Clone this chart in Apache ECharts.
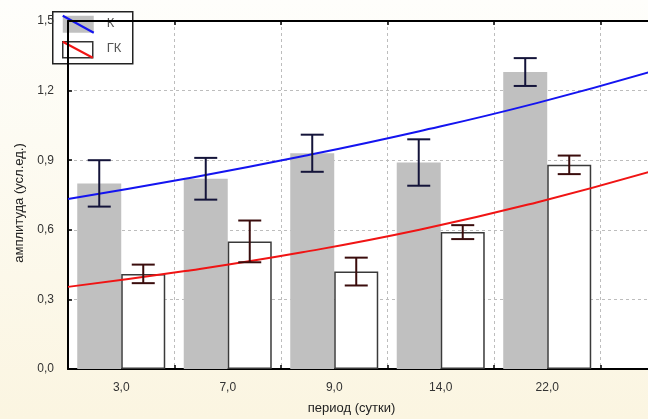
<!DOCTYPE html>
<html>
<head>
<meta charset="utf-8">
<script src="https://cdn.jsdelivr.net/npm/echarts@6/dist/echarts.min.js"></script>
<style>
html,body{margin:0;padding:0;background:#fdfbf2;}
#chart{width:648px;height:419px;}
</style>
</head>
<body>
<div id="chart"></div>
<script>
// ---- data ----
const categories = ['3,0', '7,0', '9,0', '14,0', '22,0'];
const kValues  = [0.80, 0.82, 0.93, 0.89, 1.28];
const kErr     = [0.10, 0.09, 0.08, 0.10, 0.06];
const gkValues = [0.41, 0.55, 0.42, 0.59, 0.88];
const gkErr    = [0.04, 0.09, 0.06, 0.03, 0.04];
// fitted trend curves, read at evenly spaced positions along the x axis (category units)
const fitX  = [0, 1.1, 2.2, 3.3, 4.4, 5.5];
const kFit  = [0.733, 0.820, 0.917, 1.025, 1.146, 1.285];
const gkFit = [0.354, 0.422, 0.503, 0.600, 0.718, 0.855];
const yTicks = [0, 0.3, 0.6, 0.9, 1.2, 1.5];

const X_MAX = 5.465;
const FONT = '"Liberation Sans", Arial, sans-serif';

const catPos = categories.map((c, i) => i + 0.5);
const kBars = catPos.map((x, i) => [x, kValues[i]]);
const gkBars = catPos.map((x, i) => [x, gkValues[i]]);
const kErrData = catPos.map((x, i) => [x, kValues[i], kErr[i]]);
const gkErrData = catPos.map((x, i) => [x, gkValues[i], gkErr[i]]);
const kLine = fitX.map((x, i) => [x, kFit[i]]);
const gkLine = fitX.map((x, i) => [x, gkFit[i]]);

function errRenderer(offset, color) {
  return function (params, api) {
    const x = api.value(0), y = api.value(1), e = api.value(2);
    const hi = api.coord([x, y + e]);
    const lo = api.coord([x, y - e]);
    const cx = hi[0] + offset;
    const cap = 11.5;
    const st = { stroke: color, lineWidth: 2 };
    return {
      type: 'group',
      children: [
        { type: 'line', shape: { x1: cx, y1: hi[1], x2: cx, y2: lo[1] }, style: st },
        { type: 'line', shape: { x1: cx - cap, y1: hi[1], x2: cx + cap, y2: hi[1] }, style: st },
        { type: 'line', shape: { x1: cx - cap, y1: lo[1], x2: cx + cap, y2: lo[1] }, style: st }
      ]
    };
  };
}

const chart = echarts.init(document.getElementById('chart'), null, { renderer: 'canvas' });
const gridLine = { color: '#bdbdbd', type: [3, 3], width: 1 };

const option = {
  animation: false,
  backgroundColor: {
    type: 'linear', x: 0, y: 0, x2: 0, y2: 1,
    colorStops: [{ offset: 0, color: '#fefefb' }, { offset: 1, color: '#fbf5e1' }]
  },
  textStyle: { fontFamily: FONT },
  grid: {
    left: 68, top: 21, right: -2, bottom: 50,
    show: true, backgroundColor: '#ffffff', borderWidth: 0,
    outerBoundsMode: 'none'
  },
  xAxis: [
    {
      type: 'value', position: 'bottom', min: 0, max: X_MAX, interval: 1,
      axisLine: { show: true, onZero: false, lineStyle: { color: '#000', width: 2 } },
      axisTick: { show: true, inside: true, length: 4, lineStyle: { color: '#000', width: 1.5 } },
      axisLabel: { show: false },
      splitLine: { show: true, lineStyle: gridLine }
    },
    {
      type: 'value', position: 'bottom', min: 0, max: X_MAX, interval: 0.5,
      axisLine: { show: false, onZero: false },
      axisTick: { show: false },
      splitLine: { show: false },
      axisLabel: {
        show: true, margin: 13, color: '#333', fontSize: 12, fontFamily: FONT,
        formatter: function (v) {
          const idx = Math.round(v - 0.5);
          if (Math.abs(v - 0.5 - idx) < 1e-6 && idx >= 0 && idx < categories.length) return categories[idx];
          return '';
        }
      },
      name: 'период (сутки)',
      nameLocation: 'middle',
      nameGap: 33,
      nameTextStyle: { color: '#222', fontSize: 13, fontFamily: FONT, padding: [0, 15, 0, 0] }
    },
    {
      type: 'value', position: 'top', min: 0, max: X_MAX, interval: 1,
      axisLine: { show: true, onZero: false, lineStyle: { color: '#000', width: 2 } },
      axisTick: { show: true, inside: true, length: 4, lineStyle: { color: '#000', width: 1.5 } },
      axisLabel: { show: false },
      splitLine: { show: false }
    }
  ],
  yAxis: {
    type: 'value', min: yTicks[0], max: yTicks[yTicks.length - 1], interval: 0.3,
    axisLine: { show: true, onZero: false, lineStyle: { color: '#000', width: 2 } },
    axisTick: { show: true, inside: true, length: 4, lineStyle: { color: '#000', width: 1.5 } },
    axisLabel: {
      margin: 14, color: '#333', fontSize: 12, fontFamily: FONT,
      formatter: v => v.toFixed(1).replace('.', ',')
    },
    splitLine: { show: true, lineStyle: gridLine },
    name: 'амплитуда (усл.ед.)',
    nameLocation: 'middle',
    nameGap: 35,
    nameTextStyle: { color: '#222', fontSize: 13, fontFamily: FONT, padding: [0, 16, 0, 0] }
  },
  series: [
    {
      name: 'К', type: 'bar', xAxisIndex: 0, data: kBars,
      barWidth: 44, barGap: '0%',
      itemStyle: { color: '#c0c0c0' }, z: 2
    },
    {
      name: 'ГК', type: 'bar', xAxisIndex: 0, data: gkBars,
      barWidth: 44, barGap: '0%',
      itemStyle: { color: '#ffffff', borderColor: '#3a3a3a', borderWidth: 1.5 }, z: 2
    },
    {
      name: 'К fit', type: 'line', xAxisIndex: 0, data: kLine, smooth: true,
      showSymbol: false, lineStyle: { color: '#1414f0', width: 2 }, z: 3
    },
    {
      name: 'ГК fit', type: 'line', xAxisIndex: 0, data: gkLine, smooth: true,
      showSymbol: false, lineStyle: { color: '#f01414', width: 2 }, z: 3
    },
    {
      name: 'К err', type: 'custom', xAxisIndex: 0, data: kErrData,
      renderItem: errRenderer(-22, '#14143a'), z: 4
    },
    {
      name: 'ГК err', type: 'custom', xAxisIndex: 0, data: gkErrData,
      renderItem: errRenderer(22, '#3a0c0c'), z: 4
    }
  ],
  graphic: [
    {
      type: 'group', left: 52, top: 11, z: 100,
      children: [
        { type: 'rect', shape: { x: 0, y: 0, width: 80, height: 52 },
          style: { fill: '#ffffff', stroke: '#222', lineWidth: 1.5 } },
        { type: 'rect', shape: { x: 10, y: 4, width: 31, height: 17 },
          style: { fill: '#c0c0c0' } },
        { type: 'line', shape: { x1: 10, y1: 4, x2: 41, y2: 21 },
          style: { stroke: '#1414f0', lineWidth: 2 } },
        { type: 'rect', shape: { x: 10, y: 30, width: 30, height: 16 },
          style: { fill: '#ffffff', stroke: '#333', lineWidth: 1.5 } },
        { type: 'line', shape: { x1: 10, y1: 30, x2: 40, y2: 46 },
          style: { stroke: '#f01414', lineWidth: 2 } },
        { type: 'text', x: 54, y: 12,
          style: { text: 'К', fill: '#555', font: '13px ' + FONT, verticalAlign: 'middle' } },
        { type: 'text', x: 54, y: 37,
          style: { text: 'ГК', fill: '#555', font: '13px ' + FONT, verticalAlign: 'middle' } }
      ]
    }
  ]
};
chart.setOption(option);
</script>
</body>
</html>
